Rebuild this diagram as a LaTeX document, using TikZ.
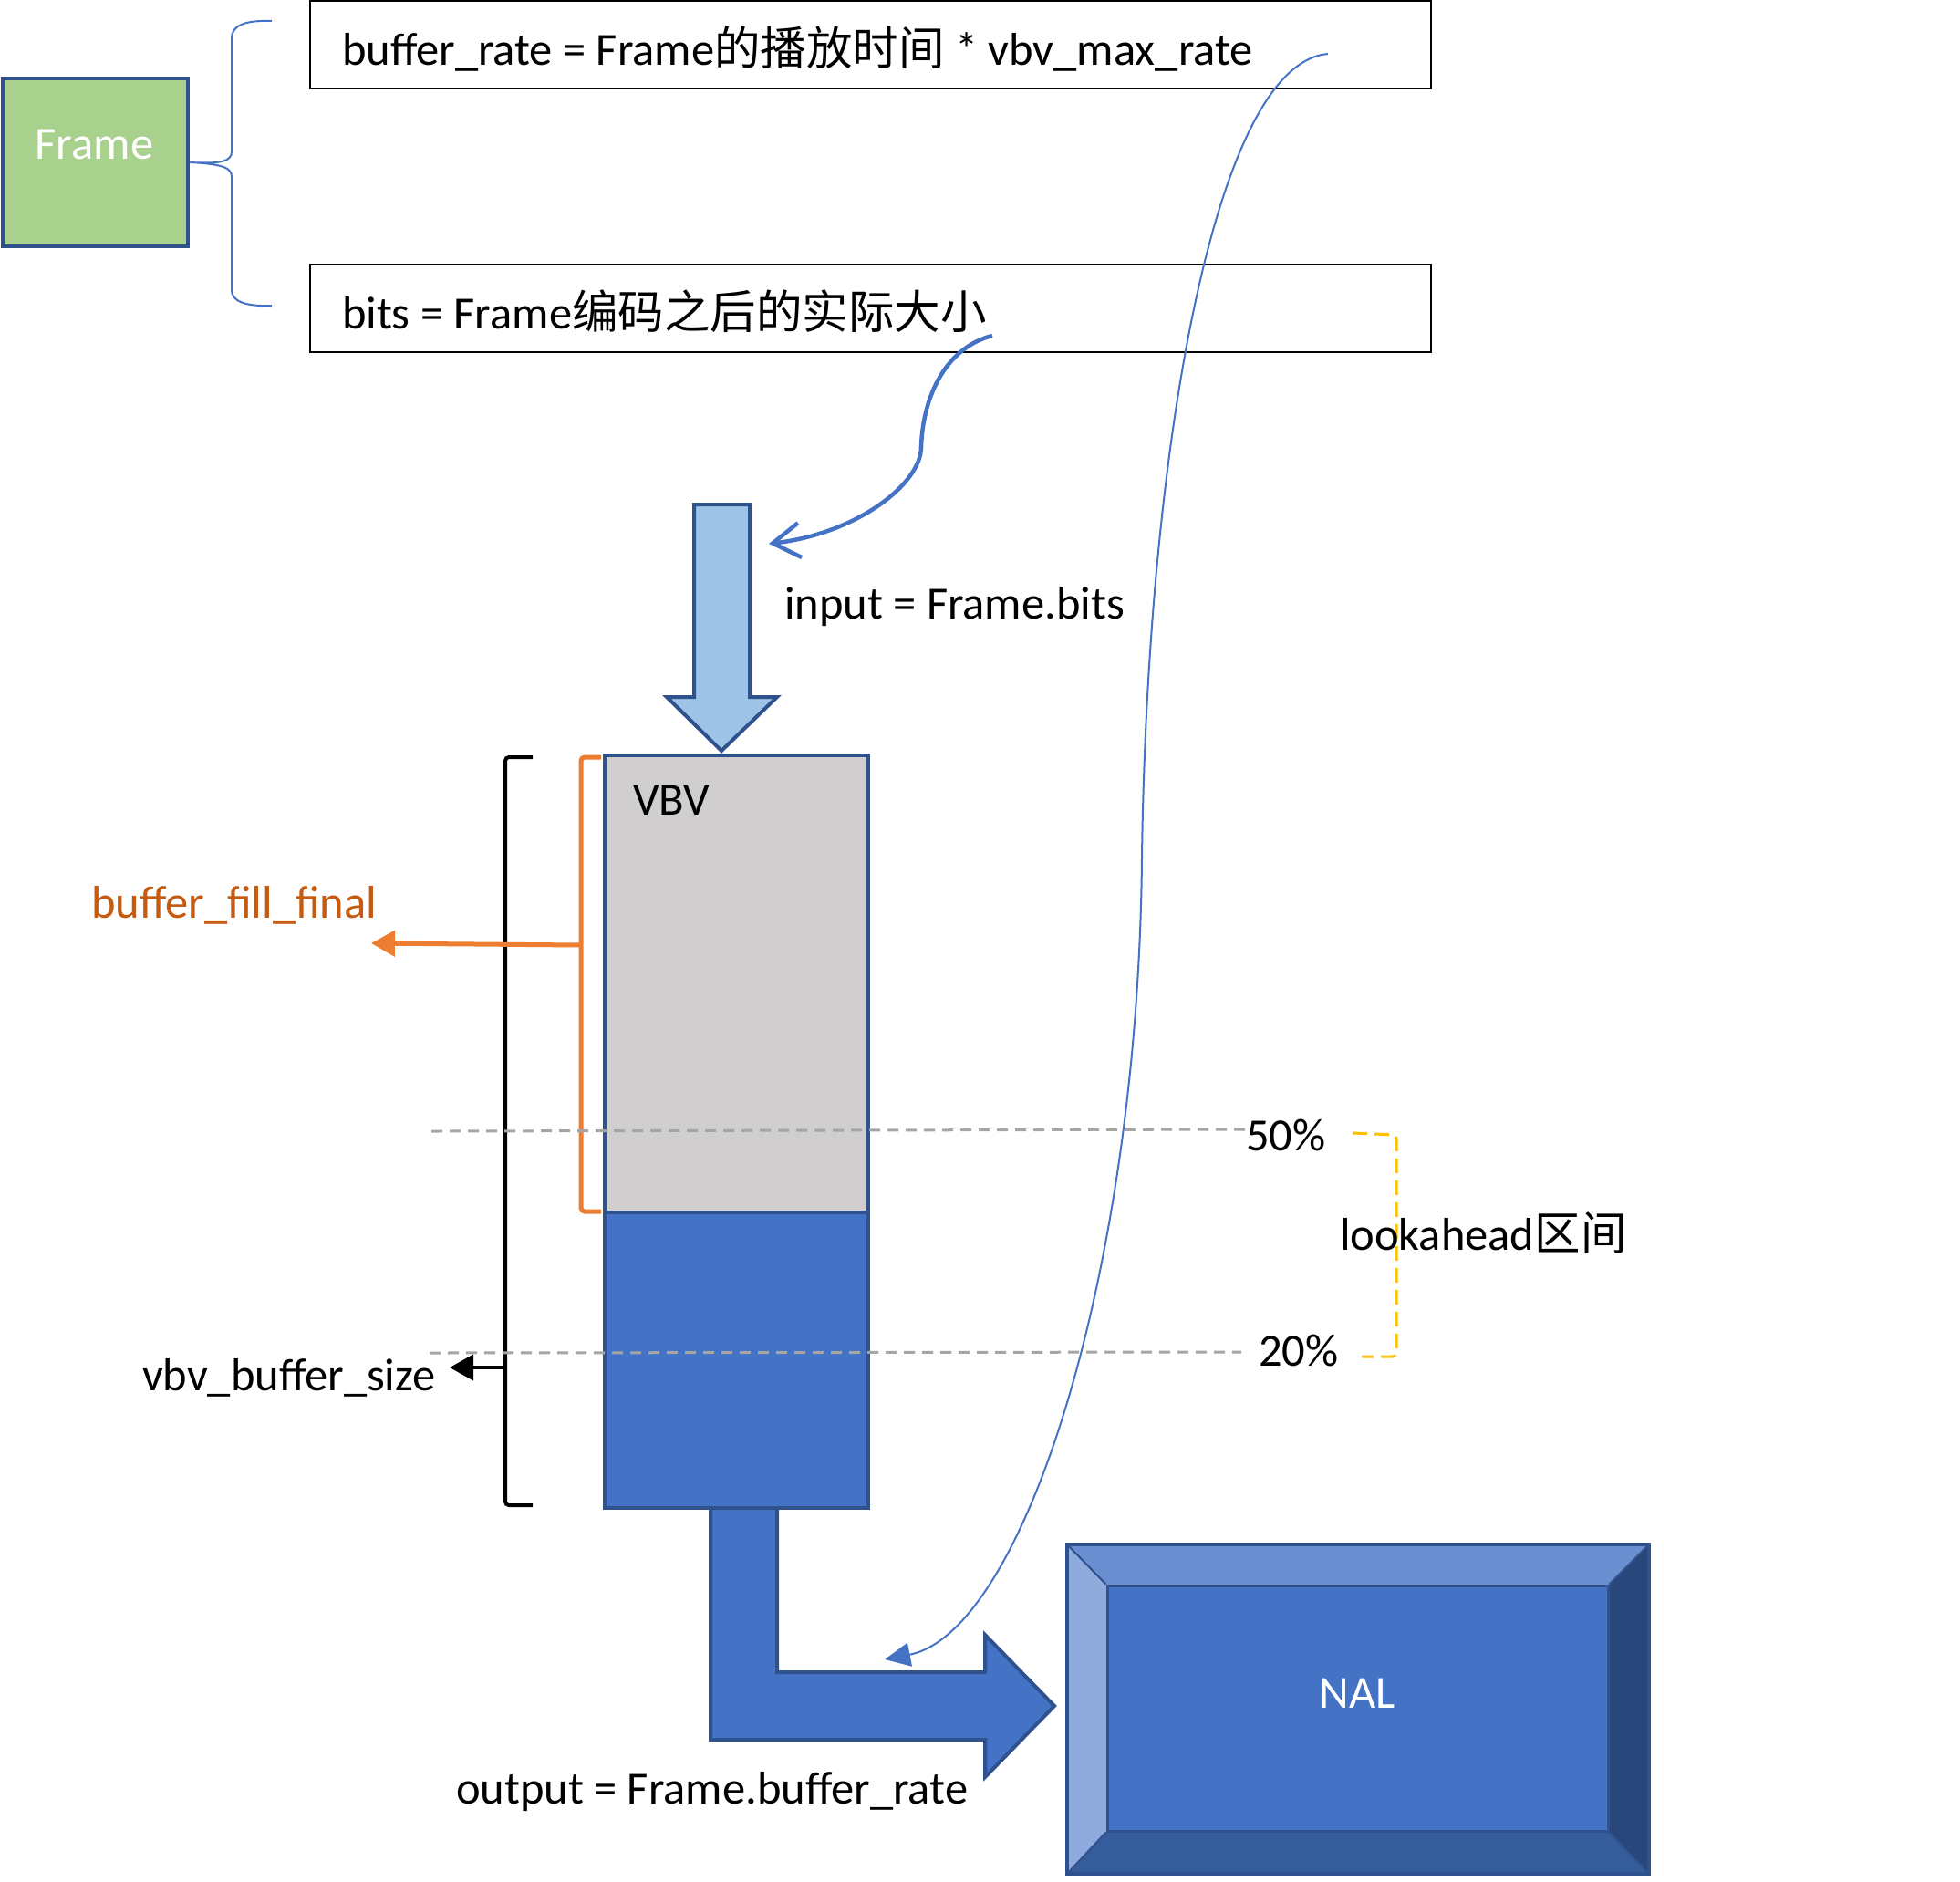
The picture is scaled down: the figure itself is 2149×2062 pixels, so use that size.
\documentclass[tikz,border=0pt]{standalone}
\usepackage{fontspec}
\setmainfont{Carlito}
\newfontfamily\cjk{Noto Sans CJK SC}
\usetikzlibrary{arrows.meta}
\definecolor{framegreen}{HTML}{A9D18E}
\definecolor{edgeblue}{HTML}{2F528F}
\definecolor{accblue}{HTML}{4472C4}
\definecolor{lightblue}{HTML}{9DC3E6}
\definecolor{vbvgray}{HTML}{D0CECE}
\definecolor{orangeline}{HTML}{ED7D31}
\definecolor{orangetext}{HTML}{C55A11}
\definecolor{dashgray}{HTML}{A5A5A5}
\definecolor{goldline}{HTML}{FFC000}
\definecolor{beveltop}{HTML}{6A8FD0}
\definecolor{bevelleft}{HTML}{8FAADC}
\definecolor{bevelright}{HTML}{29477A}
\definecolor{bevelbottom}{HTML}{355D9C}
\begin{document}
\begin{tikzpicture}[x=1pt,y=-1pt,
  lbl/.style={font=\fontsize{50.5}{60}\selectfont, inner sep=0pt, outer sep=0pt},
  txtbox/.style={draw=black, line width=2.5pt, minimum width=1229pt, minimum height=96pt, inner sep=0pt},
  framebox/.style={draw=edgeblue, fill=framegreen, line width=4.5pt, minimum width=203pt, minimum height=184pt, inner sep=0pt},
  vbvpart/.style={draw=edgeblue, line width=4pt, minimum width=289pt, inner sep=0pt},
  thinlink/.style={draw=accblue, line width=2pt},
  thicklink/.style={draw=accblue, line width=4.5pt},
  shapeblue/.style={draw=edgeblue, line width=4pt, line join=miter},
  gline/.style={draw=dashgray, line width=3pt, dash pattern=on 12pt off 8pt},
]
\useasboundingbox (0,0) rectangle (2149,2062);

% Frame box and brace
\node[framebox] (frame) at (104.5,178) {};
\node[lbl, text=white, anchor=base] (frametxt) at (103.5,174) {Frame};
\draw[thinlink] (298,23) .. controls (268,22) and (254,28) .. (254,42) -- (254,166)
  .. controls (254,176) and (245,180) .. (frame.east)
  .. controls (245,180) and (254,184) .. (254,194) -- (254,318)
  .. controls (254,330) and (268,336) .. (298,335);

% Text boxes
\node[txtbox] (ratebox) at (954.5,49) {};
\node[lbl, anchor=base west] (ratetxt) at (375,71) {buffer\_rate = Frame{\cjk 的播放时间} * vbv\_max\_rate};
\node[txtbox] (bitsbox) at (954.5,338) {};
\node[lbl, anchor=base west] (bitstxt) at (375,360) {bits = Frame{\cjk 编码之后的实际大小}};

% Output bent arrow
\draw[shapeblue, fill=accblue] (779,1653) -- (852,1653) -- (852,1833) -- (1080,1833) -- (1080,1792)
  -- (1156,1870) -- (1080,1948) -- (1080,1907) -- (779,1907) -- cycle;

% VBV buffer
\node[vbvpart, fill=vbvgray, minimum height=501pt] (vbvtop) at (807.5,1078.5) {};
\node[vbvpart, fill=accblue, minimum height=324pt] (vbvbot) at (807.5,1491) {};
\node[lbl, anchor=base west] (vbvtxt) at (694,893) {VBV};

% Input arrow
\draw[shapeblue, fill=lightblue] (761,553) -- (822,553) -- (822,764) -- (852,764) -- (791,823)
  -- (731,764) -- (761,764) -- cycle;
\node[lbl, anchor=base west] (inputtxt) at (860,678) {input = Frame.bits};

% Brackets
\draw[black, line width=4pt, rounded corners=4pt] (584,830) -- (554,830) -- (554,1650) -- (584,1650);
\coordinate (sizebr) at (554,1499);
\coordinate (sizetip) at (493,1499);
\draw[black, line width=4pt, -{Triangle[length=26pt,width=28pt]}] (sizebr) -- (sizetip);
\node[lbl, anchor=base west] (sizetxt) at (156,1524) {vbv\_buffer\_size};

\draw[orangeline, line width=5pt, rounded corners=4pt] (659,830) -- (637,830) -- (637,1328) -- (659,1328);
\coordinate (fillbr) at (637,1036);
\coordinate (filltip) at (407,1034);
\draw[orangeline, line width=5pt, -{Triangle[length=26pt,width=28pt]}] (fillbr) -- (filltip);
\node[lbl, anchor=base west, text=orangetext] (filltxt) at (100,1006) {buffer\_fill\_final};

% Threshold lines
\node[lbl, anchor=base west] (p50) at (1366,1261) {50\%};
\node[lbl, anchor=base west] (p20) at (1380,1497) {20\%};
\draw[gline] (473,1240) -- (1366,1238);
\draw[gline] (471,1483) -- (1361,1482);
\draw[goldline, line width=3pt, dash pattern=on 16pt off 8pt, rounded corners=4pt]
  (1483,1242) -- (1531,1244) -- (1531,1487) -- (1493,1487);
\node[lbl, anchor=base west] (lookahead) at (1469,1370) {lookahead{\cjk 区间}};

% Output label
\node[lbl, anchor=base west] (outtxt) at (500,1977) {output = Frame.buffer\_rate};

% NAL bevel box
\fill[beveltop] (1170,1693) -- (1808,1693) -- (1763,1738) -- (1214,1738) -- cycle;
\fill[bevelleft] (1170,1693) -- (1214,1738) -- (1214,2007) -- (1170,2054) -- cycle;
\fill[bevelright] (1808,1693) -- (1808,2054) -- (1763,2007) -- (1763,1738) -- cycle;
\fill[bevelbottom] (1170,2054) -- (1214,2007) -- (1763,2007) -- (1808,2054) -- cycle;
\node[draw=edgeblue, line width=3pt, fill=accblue, minimum width=549pt, minimum height=269pt, inner sep=0pt] (nal) at (1488.5,1872.5) {};
\draw[edgeblue, line width=2pt] (1170,1693) -- (nal.north west) (1808,1693) -- (nal.north east)
  (1170,2054) -- (nal.south west) (1808,2054) -- (nal.south east);
\draw[edgeblue, line width=4pt] (1170,1693) rectangle (1808,2054);
\node[lbl, text=white] (naltxt) at (1488,1856) {NAL};

% Connectors
\coordinate (bitsend) at (1088,368);
\coordinate (inhead) at (843,596);
\draw[thicklink, -{Straight Barb[length=30pt,width=38pt]}] (bitsend) .. controls (1040,380) and (1012,430) .. (1010,490)
  .. controls (1010,530) and (940,585) .. (inhead);
\coordinate (rateend) at (1456,59);
\coordinate (outnotch) at (970,1819);
\draw[thinlink, -{Triangle[length=28pt,width=26pt]}] (rateend) .. controls (1330,70) and (1258,500) .. (1252,940)
  .. controls (1248,1400) and (1120,1790) .. (outnotch);
\end{tikzpicture}
\end{document}
